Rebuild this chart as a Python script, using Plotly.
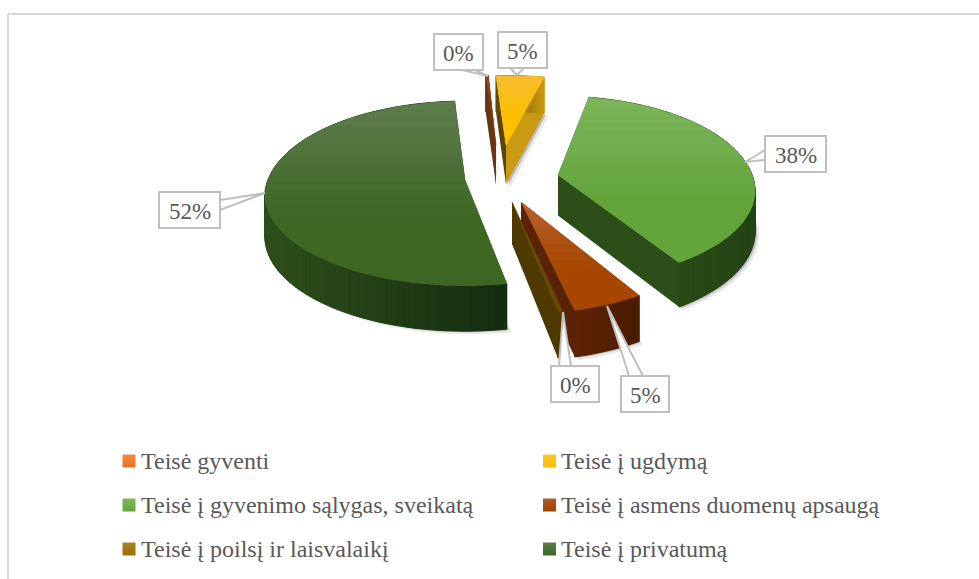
import numpy as np
import plotly.graph_objects as go

# ---- data ----
CATEGORIES = ["Teisė gyventi", "Teisė į ugdymą", "Teisė į gyvenimo sąlygas, sveikatą",
              "Teisė į asmens duomenų apsaugą", "Teisė į poilsį ir laisvalaikį", "Teisė į privatumą"]
VALUES = [0.3, 4.6, 38.2, 4.9, 0.3, 52.0]

# ---- style / layout constants ----
FONT = "Liberation Serif"
TEXT = "#595959"
EDGE = "#BFBFBF"
SWATCH_TOP = ["#F58B45", "#FFC72C", "#7DB85C", "#AD5A2E", "#AC8428", "#5B7E48"]
SWATCH_BOT = ["#EB7020", "#FFBE00", "#65A53C", "#9E4400", "#976F00", "#3E6623"]
TOP_A = ["#8A4A20", "#F4BC30", "#7CB65C", "#B8622F", "#7A4A10", "#5F7D4E"]   # top of face
TOP_B = ["#7A3A10", "#FFC000", "#63A43B", "#A64600", "#6A4A00", "#3E6724"]   # bottom of face
WALL_L = ["#6A3410", "#5C4508", "#2E5219", "#5E2400", "#4E3A00", "#2F501B"]  # arc wall left
WALL_R = ["#6A3410", "#C89A12", "#254415", "#4A1C00", "#4E3A00", "#152D10"]  # arc wall right
FLAT_1 = ["#6A3410", "#5C4508", "#2E5019", "#4A1C00", "#4E3A00", "#2F501B"]  # wall at first edge
FLAT_2 = ["#6A3410", "#C99A12", "#2C4E18", "#5A2208", "#4E3A00", "#2F501B"]  # wall at last edge
APEX = [(496, 145), (506, 145), (558, 175), (521, 202), (512, 202), (465, 180)]
SCALE_X = [0.88, 1.0, 0.985, 1.0, 1.0, 1.0]
SCALE_Y = [0.88, 0.88, 1.0, 1.0, 1.0, 1.0]
FRONT = [1.0, 1.0, 0.955, 1.0, 1.0, 0.945]
ROT = [4.0, 3.5, 1.1, 2.6, 3.5, 4.5]
ORDER = [5, 2, 0, 1, 3, 4]
START = -8.0
RX, RY, K = 197.0, 92.5, 0.173


def hex2rgb(h):
    return np.array([int(h[i:i + 2], 16) for i in (1, 3, 5)], float)


def mix(a, b, t):
    c = hex2rgb(a) * (1 - t) + hex2rgb(b) * t
    return "rgb(%d,%d,%d)" % tuple(c)


def depth(y):
    return 36 + (y - 75) * 0.045


def rim(i, deg):
    th = np.radians(deg + ROT[i])
    c = np.cos(th)
    den = 1 + K * c
    ax, ay = APEX[i]
    fy = np.where(c < 0, FRONT[i], 1.0)
    return np.stack([ax + SCALE_X[i] * RX * np.sin(th) / den, ay - SCALE_Y[i] * fy * RY * c / den], -1)


def drop(p):
    p = np.atleast_2d(p).astype(float)
    return np.stack([p[:, 0], p[:, 1] + depth(p[:, 1])], -1)


def clip(poly, y, keep_below):
    out = []
    n = len(poly)
    for k in range(n):
        a, b = poly[k], poly[(k + 1) % n]
        ina = a[1] >= y if keep_below else a[1] <= y
        inb = b[1] >= y if keep_below else b[1] <= y
        if ina:
            out.append(a)
        if ina != inb:
            t = (y - a[1]) / (b[1] - a[1])
            out.append(a + (b - a) * t)
    return np.array(out) if out else np.empty((0, 2))


fig = go.Figure()


def poly(p, color, lw=0.0):
    p = np.asarray(p)
    fig.add_trace(go.Scatter(x=np.r_[p[:, 0], p[0, 0]], y=np.r_[p[:, 1], p[0, 1]], mode="lines", fill="toself",
                             fillcolor=color, line=dict(color=color, width=lw), hoverinfo="skip", showlegend=False))


shares = np.array(VALUES) / np.sum(VALUES) * 360
edges = START + np.r_[0, np.cumsum(shares)]

for i in ORDER:
    a0, a1 = edges[i], edges[i + 1]
    degs = np.linspace(a0, a1, max(3, int((a1 - a0) / 1.5) + 2))
    arc = rim(i, degs)
    apex = np.array(APEX[i], float)
    apex_d = drop(apex)[0]
    arc_d = drop(arc)
    # soft shadow from the bottom outline
    base = np.vstack([apex_d, arc_d])
    for off, col in ((4, "rgba(90,90,90,0.15)"), (2, "rgba(70,70,90,0.28)")):
        poly(base + [off, off - 1], col)
    # flat walls
    poly([apex, arc[0], arc_d[0], apex_d], FLAT_1[i])
    poly([apex, arc[-1], arc_d[-1], apex_d], FLAT_2[i])
    # arc wall: overlapping vertical strips, so that no seams show
    x0, x1 = arc[:, 0].min(), arc[:, 0].max()
    poly(np.vstack([arc, arc_d[::-1]]), mix(WALL_L[i], WALL_R[i], 0.5))
    for k in range(len(arc) - 1):
        t = ((arc[k, 0] + arc[k + 1, 0]) / 2 - x0) / max(x1 - x0, 1)
        poly([arc[k], arc[k + 1], arc_d[k + 1], arc_d[k]], mix(WALL_L[i], WALL_R[i], t), 1.0)
    # top face with vertical gradient, over a solid base
    face = np.vstack([apex, arc])
    y0, y1 = face[:, 1].min(), face[:, 1].max()
    n = max(1, int((y1 - y0) / 8))
    ys = np.linspace(y0, y1, n + 1)
    poly(face, TOP_B[i], 0.5)
    for k in range(n):
        band = clip(clip(face, ys[k], True), min(ys[k + 1] + 1.0, y1), False)
        if len(band) >= 3:
            poly(band, mix(TOP_A[i], TOP_B[i], min(1, (k + .5) / n * 1.6)))

# legend drawn as markers with text
LEG_X = [129, 549.5]
LEG_TEXT_X = [141, 561]
LEG_Y = [461, 505, 549]
for i, name in enumerate(CATEGORIES):
    col = i % 2
    row = i // 2
    fig.add_trace(go.Scatter(x=[LEG_X[col]], y=[LEG_Y[row]], mode="markers",
                             marker=dict(symbol="square", size=13, color=SWATCH_TOP[i],
                                         gradient=dict(type="vertical", color=SWATCH_BOT[i])),
                             hoverinfo="skip", showlegend=False))
    fig.add_trace(go.Scatter(x=[LEG_TEXT_X[col]], y=[LEG_Y[row] + 2], mode="text", text=[name],
                             textposition="middle right", cliponaxis=False,
                             textfont=dict(family=FONT, size=24, color=TEXT),
                             hoverinfo="skip", showlegend=False))

# data label call-outs: box (x0,y0,x1,y1), tail tip, tail base
LABEL_BOX = [(434, 34, 483, 70), (498, 32, 547, 68), (765, 136, 826, 172),
             (621, 376, 669, 412), (551, 366, 599, 402), (159, 192, 220, 228)]
LABEL_TIP = [(488, 76), (517, 75), (745, 162), (607, 306), (563, 312), (265, 193)]
LABEL_BASE = [((462, 70), (475, 70)), ((510, 68), (524, 68)), ((765, 150), (765, 160)),
              ((629, 376), (643, 376)), ((559, 366), (571, 366)), ((220, 200), (220, 210))]
shapes = []
for (b0, b1), tip in zip(LABEL_BASE, LABEL_TIP):
    shapes.append(dict(type="path", path=f"M{b0[0]},{b0[1]} L{tip[0]},{tip[1]} L{b1[0]},{b1[1]} Z",
                       fillcolor="white", line=dict(color=EDGE, width=2), layer="above"))
annotations = []
for i, (x0, y0, x1, y1) in enumerate(LABEL_BOX):
    shapes.append(dict(type="rect", x0=x0, y0=y0, x1=x1, y1=y1, fillcolor="white",
                       line=dict(color=EDGE, width=2), layer="above"))
    annotations.append(dict(x=(x0 + x1) / 2, y=(y0 + y1) / 2, text=f"{round(VALUES[i])}%", showarrow=False,
                            yshift=-1, font=dict(family=FONT, size=23, color=TEXT)))

# chart frame
shapes.append(dict(type="line", x0=8, x1=979, y0=14, y1=14, line=dict(color="#D9D9D9", width=2), layer="below"))
shapes.append(dict(type="line", x0=8, x1=8, y0=14, y1=579, line=dict(color="#D9D9D9", width=2), layer="below"))

fig.update_layout(width=979, height=579, margin=dict(l=0, r=0, t=0, b=0), paper_bgcolor="white",
                  plot_bgcolor="white", showlegend=False, shapes=shapes, annotations=annotations,
                  xaxis=dict(range=[0, 979], visible=False, fixedrange=True),
                  yaxis=dict(range=[579, 0], visible=False, fixedrange=True))
fig.write_html("out.html", post_script="document.body.style.margin='0';", config=dict(displayModeBar=False))
